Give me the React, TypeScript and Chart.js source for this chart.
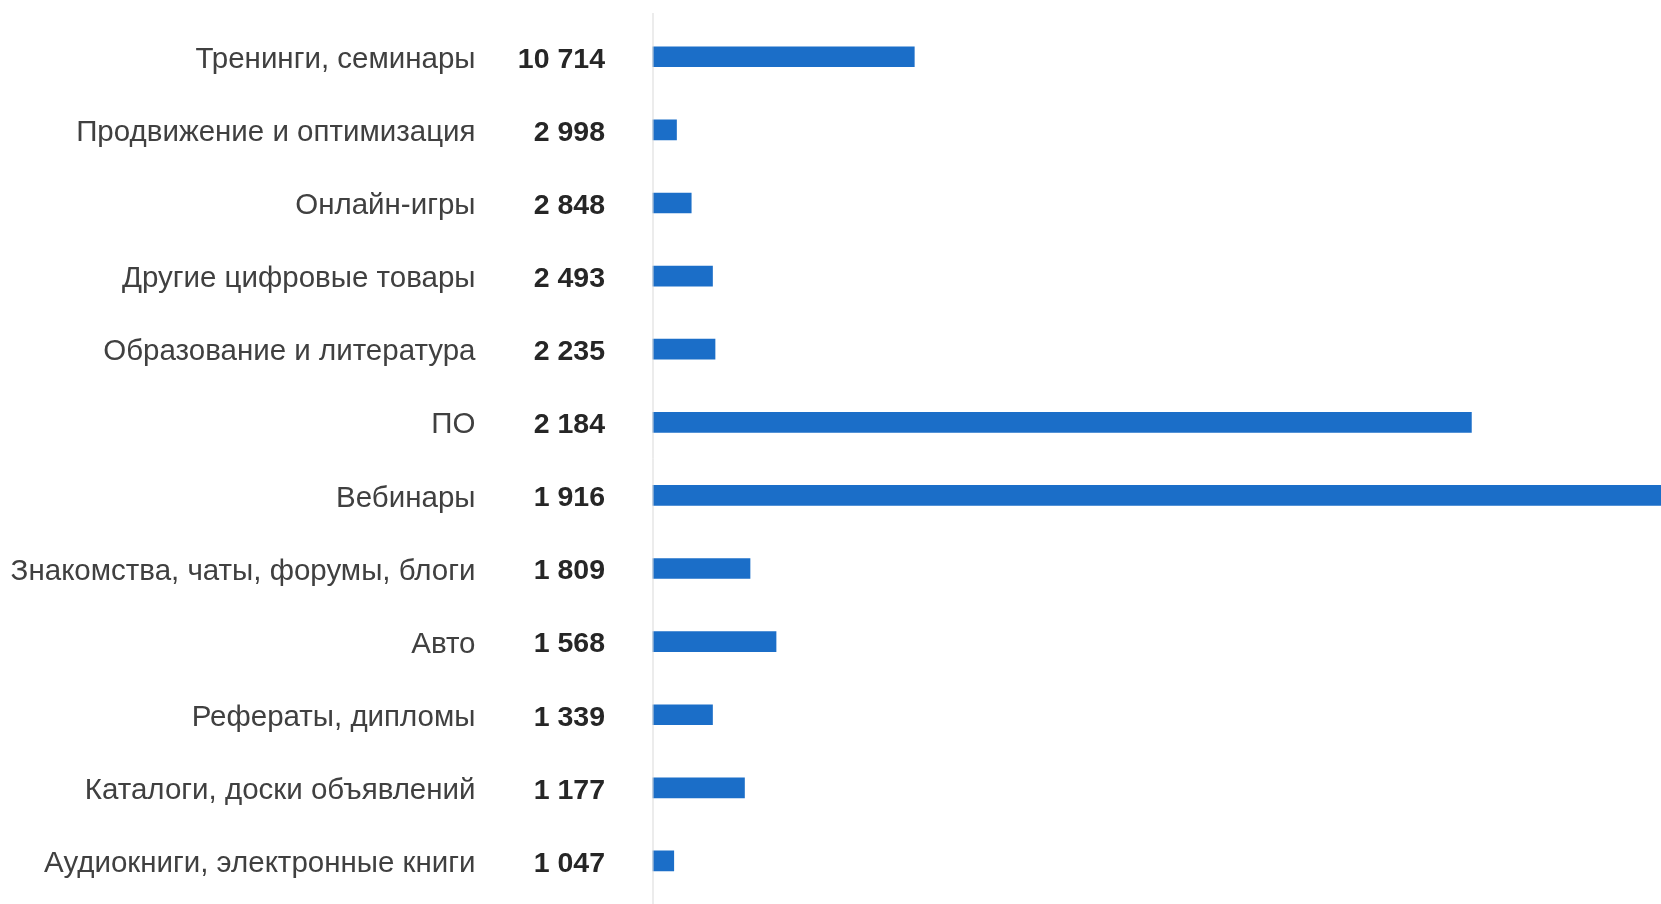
import React, { useEffect, useRef } from "react";
import { Chart, registerables } from "chart.js";

Chart.register(...registerables);

const categories = [
  "Тренинги, семинары",
  "Продвижение и оптимизация",
  "Онлайн-игры",
  "Другие цифровые товары",
  "Образование и литература",
  "ПО",
  "Вебинары",
  "Знакомства, чаты, форумы, блоги",
  "Авто",
  "Рефераты, дипломы",
  "Каталоги, доски объявлений",
  "Аудиокниги, электронные книги",
];

const countLabels = [
  "10 714",
  "2 998",
  "2 848",
  "2 493",
  "2 235",
  "2 184",
  "1 916",
  "1 809",
  "1 568",
  "1 339",
  "1 177",
  "1 047",
];

const barValues = [25.96, 2.38, 3.84, 5.95, 6.2, 81.2, 100, 9.67, 12.25, 5.95, 9.12, 2.11];

const FONT = "'Liberation Sans', Arial, sans-serif";

const sidePlugin = {
  id: "sideLabels",
  afterDraw(chart: any) {
    const { ctx, chartArea, scales } = chart;
    const y = scales.y;
    ctx.save();
    // axis line
    ctx.strokeStyle = "#d9d9d9";
    ctx.lineWidth = 1;
    ctx.beginPath();
    ctx.moveTo(chartArea.left + 0.5, 13);
    ctx.lineTo(chartArea.left + 0.5, chart.height);
    ctx.stroke();
    ctx.textAlign = "right";
    ctx.textBaseline = "middle";
    // category labels
    ctx.fillStyle = "#404040";
    ctx.font = `29.5px ${FONT}`;
    (y.getLabels() as string[]).forEach((t, i) => {
      const py = y.getPixelForValue(i);
      ctx.fillText(t, chartArea.left - 177, py + 3);
    });
    // numbers
    ctx.fillStyle = "#262626";
    ctx.font = `bold 28.5px ${FONT}`;
    countLabels.forEach((t, i) => {
      const py = y.getPixelForValue(i);
      ctx.fillText(t, chartArea.left - 47.5, py + 3);
    });
    ctx.restore();
  },
};

export default function App() {
  const ref = useRef<HTMLCanvasElement | null>(null);
  useEffect(() => {
    if (!ref.current) return;
    const chart = new Chart(ref.current, {
      type: "bar",
      data: {
        labels: categories,
        datasets: [
          {
            data: barValues,
            backgroundColor: "#1b6ec8",
            borderWidth: 0,
            barThickness: 20,
          },
        ],
      },
      options: {
        indexAxis: "y",
        animation: false,
        responsive: true,
        maintainAspectRatio: false,
        layout: { padding: { top: 20.2, bottom: 6.5, left: 0, right: 0 } },
        plugins: { legend: { display: false }, tooltip: { enabled: false } },
        scales: {
          x: { display: false, min: 0, max: 100 },
          y: {
            afterFit(scale: any) {
              scale.width = 652.5;
            },
            border: { display: false },
            grid: { display: false, drawTicks: false },
            ticks: { display: false, autoSkip: false },
          },
        },
      },
      plugins: [sidePlugin],
    });
    return () => chart.destroy();
  }, []);
  return (
    <div style={{ position: "absolute", left: 0, top: 0, width: 1661, height: 904, background: "#fff" }}>
      <canvas ref={ref} />
    </div>
  );
}
